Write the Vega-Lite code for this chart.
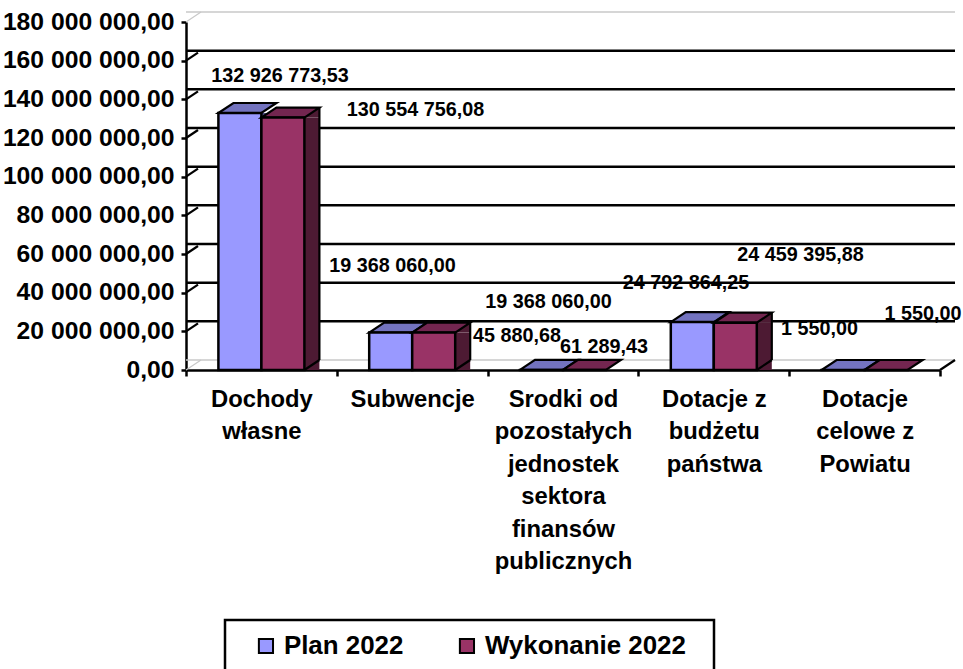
{"$schema":"https://vega.github.io/schema/vega-lite/v6.json","width":754,"height":348,"autosize":"none","padding":{"left":186,"top":22,"right":23,"bottom":299},"background":"white",
"config":{"view":{"stroke":null},"legend":{"strokeWidth":2.5},"axisY":{"labelOverlap":false,"labelBound":false,"labelFlush":false},"text":{"font":"Liberation Sans","fontWeight":"bold","fontSize":19.8,"color":"black"}},
"datasets":{"bars":[
{"key":1,"category":"Dochody|własne","series":"Plan 2022","value":132926773.53,"label":"132 926 773,53"},
{"key":2,"category":"Dochody|własne","series":"Wykonanie 2022","value":130554756.08,"label":"130 554 756,08"},
{"key":3,"category":"Subwencje","series":"Plan 2022","value":19368060,"label":"19 368 060,00"},
{"key":4,"category":"Subwencje","series":"Wykonanie 2022","value":19368060,"label":"19 368 060,00"},
{"key":5,"category":"Srodki od|pozostałych|jednostek|sektora|finansów|publicznych","series":"Plan 2022","value":45880.68,"label":"45 880,68"},
{"key":6,"category":"Srodki od|pozostałych|jednostek|sektora|finansów|publicznych","series":"Wykonanie 2022","value":61289.43,"label":"61 289,43"},
{"key":7,"category":"Dotacje z|budżetu|państwa","series":"Plan 2022","value":24792864.25,"label":"24 792 864,25"},
{"key":8,"category":"Dotacje z|budżetu|państwa","series":"Wykonanie 2022","value":24459395.88,"label":"24 459 395,88"},
{"key":9,"category":"Dotacje|celowe z|Powiatu","series":"Plan 2022","value":1550,"label":"1 550,00"},
{"key":10,"category":"Dotacje|celowe z|Powiatu","series":"Wykonanie 2022","value":1550,"label":"1 550,00"}],
"grid":[{"tick":20000000},{"tick":40000000},{"tick":60000000},{"tick":80000000},{"tick":100000000},{"tick":120000000},{"tick":140000000},{"tick":160000000}],
"edge":[{"tick":0},{"tick":180000000}]},
"layer":[
{"data":{"name":"edge"},"mark":{"type":"rule","stroke":"#c8c8c8","strokeWidth":1.5,"xOffset":15,"x2Offset":15,"yOffset":-10},"encoding":{"y":{"field":"tick","type":"quantitative"}}},
{"data":{"name":"edge"},"mark":{"type":"point","shape":"M0,0L15,-10","size":4,"filled":false,"stroke":"#c8c8c8","strokeWidth":1.2,"opacity":1,"xOffset":-75.4},"encoding":{"x":{"datum":"Dochody|własne"},"y":{"field":"tick","type":"quantitative"}}},
{"data":{"name":"grid"},"mark":{"type":"rule","stroke":"black","strokeWidth":2.5,"xOffset":15,"x2Offset":15,"yOffset":-10},"encoding":{"y":{"field":"tick","type":"quantitative"}}},
{"data":{"name":"grid"},"mark":{"type":"point","shape":"M0,0L12,-8","size":4,"filled":false,"stroke":"black","strokeWidth":2.2,"opacity":1,"xOffset":-75.4},"encoding":{"x":{"datum":"Dochody|własne"},"y":{"field":"tick","type":"quantitative"}}},
{"data":{"name":"edge"},"transform":[{"filter":"datum.tick==0"}],"mark":{"type":"point","shape":"M0,0L15,-10","size":4,"filled":false,"stroke":"black","strokeWidth":2.2,"opacity":1,"xOffset":75.4},"encoding":{"x":{"datum":"Dotacje|celowe z|Powiatu"},"y":{"field":"tick","type":"quantitative"}}},

{"data":{"name":"bars"},"transform":[{"filter":"datum.series=='Plan 2022' && datum.value>1000000"}],"mark":{"type":"bar","size":15,"xOffset":7.5,"y2Offset":-10,"fill":"#4D4D80"},"encoding":{"x":{"field":"category","type":"nominal","sort":null},"y":{"field":"value","type":"quantitative"}}},
{"data":{"name":"bars"},"transform":[{"filter":"datum.series=='Plan 2022'"}],"mark":{"type":"point","shape":"M0,0L43,0L58,-10L15,-10Z","size":4,"filled":true,"fill":"#7373BF","stroke":"black","strokeWidth":2.2,"opacity":1,"xOffset":-43},"encoding":{"x":{"field":"category","type":"nominal","sort":null},"y":{"field":"value","type":"quantitative"}}},
{"data":{"name":"bars"},"transform":[{"filter":"datum.series=='Plan 2022'"}],"mark":{"type":"bar","size":43,"xOffset":-21.5,"stroke":"black","strokeWidth":2.5},"encoding":{"x":{"field":"category","type":"nominal","sort":null},"y":{"field":"value","type":"quantitative"},"color":{"field":"series","type":"nominal"}}},

{"data":{"name":"bars"},"transform":[{"filter":"datum.series!='Plan 2022' && datum.value>1000000"}],"mark":{"type":"bar","size":15,"xOffset":50.5,"y2Offset":-10,"fill":"#4D1A33"},"encoding":{"x":{"field":"category","type":"nominal","sort":null},"y":{"field":"value","type":"quantitative"}}},
{"data":{"name":"bars"},"transform":[{"filter":"datum.series!='Plan 2022' && datum.value>1000000"}],"mark":{"type":"point","shape":"M0,0L15,-10L15,0Z","size":4,"filled":true,"fill":"#4D1A33","opacity":1,"strokeWidth":0,"xOffset":43},"encoding":{"x":{"field":"category","type":"nominal","sort":null},"y":{"field":"value","type":"quantitative"}}},
{"data":{"name":"bars"},"transform":[{"filter":"datum.series!='Plan 2022' && datum.value>1000000"}],"mark":{"type":"point","shape":"M0,0L15,-10L0,-10Z","size":4,"filled":true,"fill":"#4D1A33","stroke":"#4D1A33","strokeWidth":0,"opacity":1,"xOffset":43},"encoding":{"x":{"field":"category","type":"nominal","sort":null},"y":{"datum":0}}},
{"data":{"name":"bars"},"transform":[{"filter":"datum.series!='Plan 2022' && datum.value>1000000"}],"mark":{"type":"point","shape":"M0,0L15,-10","size":4,"filled":false,"stroke":"black","strokeWidth":2.2,"opacity":1,"xOffset":43},"encoding":{"x":{"field":"category","type":"nominal","sort":null},"y":{"datum":0}}},
{"data":{"name":"bars"},"transform":[{"filter":"datum.series!='Plan 2022' && datum.value>1000000"}],"mark":{"type":"rule","stroke":"black","strokeWidth":2.2,"xOffset":58,"yOffset":-10,"y2Offset":-10},"encoding":{"x":{"field":"category","type":"nominal","sort":null},"y":{"field":"value","type":"quantitative"},"y2":{"datum":0}}},
{"data":{"name":"bars"},"transform":[{"filter":"datum.series!='Plan 2022'"}],"mark":{"type":"point","shape":"M0,0L43,0L58,-10L15,-10Z","size":4,"filled":true,"fill":"#732650","stroke":"black","strokeWidth":2.2,"opacity":1},"encoding":{"x":{"field":"category","type":"nominal","sort":null},"y":{"field":"value","type":"quantitative"}}},
{"data":{"name":"bars"},"transform":[{"filter":"datum.series!='Plan 2022'"}],"mark":{"type":"bar","size":43,"xOffset":21.5,"stroke":"black","strokeWidth":2.5},"encoding":{
"x":{"field":"category","type":"nominal","sort":null,"title":null,"scale":{"paddingInner":0,"paddingOuter":0,"domain":["Dochody|własne","Subwencje","Srodki od|pozostałych|jednostek|sektora|finansów|publicznych","Dotacje z|budżetu|państwa","Dotacje|celowe z|Powiatu"]},"axis":{"title":null,"labelAngle":0,"labelAlign":"center","labelOverlap":false,"domainColor":"black","domainWidth":2.5,"tickColor":"black","tickWidth":2.5,"tickSize":6,"tickBand":"extent","labelFont":"Liberation Sans","labelFontWeight":"bold","labelFontSize":23.8,"labelColor":"black","labelLimit":400,"labelPadding":11,"labelLineHeight":32.5,"labelBaseline":"top","labelExpr":"split(datum.label,'|')"}},
"y":{"field":"value","type":"quantitative","title":null,"scale":{"domain":[0,180000000],"nice":false},"axis":{"title":null,"grid":false,"labelOverlap":false,"labelLineHeight":20,"tickCount":10,"values":[0,20000000,40000000,60000000,80000000,100000000,120000000,140000000,160000000,180000000],"domainColor":"black","domainWidth":2.5,"tickColor":"black","tickWidth":2.5,"tickSize":5,"labelFont":"Liberation Sans","labelFontWeight":"bold","labelFontSize":24.7,"labelColor":"black","labelPadding":7,"labelExpr":"replace(replace(format(datum.value,',.2f'),regexp(',','g'),' '),'.',',')"}},
"color":{"field":"series","type":"nominal","scale":{"domain":["Plan 2022","Wykonanie 2022"],"range":["#9999FF","#993366"]},"legend":{"title":null,"orient":"none","legendX":39,"legendY":598,"direction":"horizontal","columns":2,"padding":13,"symbolOffset":15,"strokeColor":"black","fillColor":"white","symbolType":"square","symbolSize":200,"symbolStrokeColor":"black","symbolStrokeWidth":2,"symbolOpacity":1,"labelFont":"Liberation Sans","labelFontWeight":"bold","labelFontSize":25.9,"labelColor":"black","labelLimit":400,"labelOffset":5,"columnPadding":21,"labelExpr":"datum.label+'\u00a0\u00a0\u200b'"}}}},

{"data":{"name":"bars"},"transform":[{"filter":"datum.key==1"}],"mark":{"type":"text","xOffset":18.6,"yOffset":-37},"encoding":{"x":{"field":"category","type":"nominal","sort":null},"y":{"field":"value","type":"quantitative"},"text":{"field":"label"}}},
{"data":{"name":"bars"},"transform":[{"filter":"datum.key==2"}],"mark":{"type":"text","xOffset":154,"yOffset":-7.6},"encoding":{"x":{"field":"category","type":"nominal","sort":null},"y":{"field":"value","type":"quantitative"},"text":{"field":"label"}}},
{"data":{"name":"bars"},"transform":[{"filter":"datum.key==3"}],"mark":{"type":"text","xOffset":-19.7,"yOffset":-66.6},"encoding":{"x":{"field":"category","type":"nominal","sort":null},"y":{"field":"value","type":"quantitative"},"text":{"field":"label"}}},
{"data":{"name":"bars"},"transform":[{"filter":"datum.key==4"}],"mark":{"type":"text","xOffset":136.3,"yOffset":-30.6},"encoding":{"x":{"field":"category","type":"nominal","sort":null},"y":{"field":"value","type":"quantitative"},"text":{"field":"label"}}},
{"data":{"name":"bars"},"transform":[{"filter":"datum.key==5"}],"mark":{"type":"text","xOffset":-46,"yOffset":-34},"encoding":{"x":{"field":"category","type":"nominal","sort":null},"y":{"field":"value","type":"quantitative"},"text":{"field":"label"}}},
{"data":{"name":"bars"},"transform":[{"filter":"datum.key==6"}],"mark":{"type":"text","xOffset":41,"yOffset":-23.3},"encoding":{"x":{"field":"category","type":"nominal","sort":null},"y":{"field":"value","type":"quantitative"},"text":{"field":"label"}}},
{"data":{"name":"bars"},"transform":[{"filter":"datum.key==7"}],"mark":{"type":"text","xOffset":-27.8,"yOffset":-39},"encoding":{"x":{"field":"category","type":"nominal","sort":null},"y":{"field":"value","type":"quantitative"},"text":{"field":"label"}}},
{"data":{"name":"bars"},"transform":[{"filter":"datum.key==8"}],"mark":{"type":"text","xOffset":86.7,"yOffset":-67.7},"encoding":{"x":{"field":"category","type":"nominal","sort":null},"y":{"field":"value","type":"quantitative"},"text":{"field":"label"}}},
{"data":{"name":"bars"},"transform":[{"filter":"datum.key==9"}],"mark":{"type":"text","xOffset":-45,"yOffset":-41},"encoding":{"x":{"field":"category","type":"nominal","sort":null},"y":{"field":"value","type":"quantitative"},"text":{"field":"label"}}},
{"data":{"name":"bars"},"transform":[{"filter":"datum.key==10"}],"mark":{"type":"text","xOffset":58.4,"yOffset":-56},"encoding":{"x":{"field":"category","type":"nominal","sort":null},"y":{"field":"value","type":"quantitative"},"text":{"field":"label"}}}
],
"resolve":{"scale":{"x":"shared","y":"shared"}}}
